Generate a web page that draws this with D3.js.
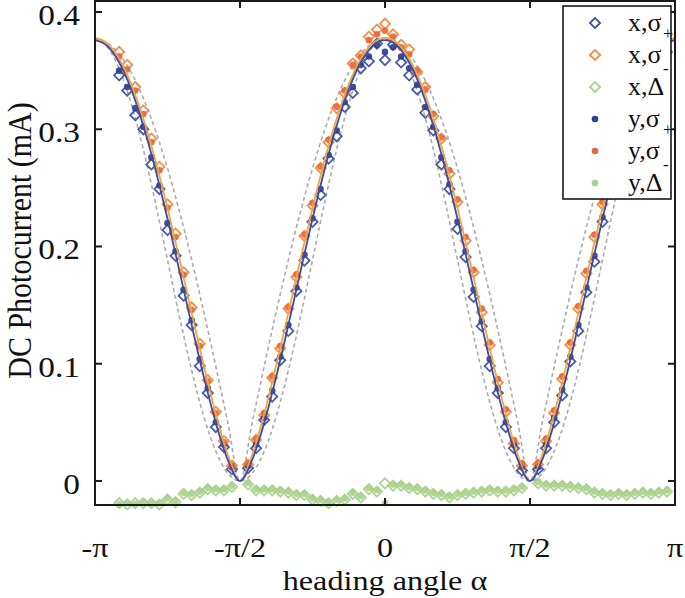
<!DOCTYPE html>
<html><head><meta charset="utf-8">
<script src="https://cdn.jsdelivr.net/npm/d3@7"></script>
<style>body{margin:0;background:#fff} svg{display:block}</style>
</head><body><svg id="c" width="685" height="598"></svg>
<script>
// ---- data (degrees) ----
const angles = [-165,-160,-155,-150,-145,-140,-135,-130,-125,-120,-115,-110,-105,-100,-95,
 -85,-80,-75,-70,-65,-60,-55,-50,-45,-40,-35,-30,-25,-20,-15,-10,-5,
 0,
 5,10,15,20,25,30,35,40,45,50,55,60,65,70,75,80,85,
 95,100,105,110,115,120,125,130,135,140,145,150,155,160,165,170,175];

const xSigP = [0.346,0.333,0.312,0.300,0.270,0.249,0.214,0.192,0.158,0.133,0.098,0.075,0.046,0.029,0.010,
 0.011,0.028,0.052,0.072,0.103,0.128,0.162,0.188,0.221,0.244,0.275,0.294,0.319,0.331,0.352,0.358,0.373,
 0.359,
 0.372,0.357,0.346,0.334,0.314,0.299,0.270,0.249,0.215,0.191,0.157,0.132,0.098,0.075,0.046,0.028,0.009,
 0.010,0.028,0.050,0.073,0.102,0.128,0.161,0.187,0.221,0.245,0.274,0.297,0.318,0.334,0.350,0.360,0.366];

const xSigM = [0.366,0.355,0.336,0.316,0.292,0.268,0.236,0.211,0.178,0.148,0.117,0.086,0.059,0.034,0.013,
 0.014,0.035,0.056,0.088,0.113,0.147,0.174,0.209,0.235,0.267,0.289,0.318,0.331,0.356,0.363,0.379,0.385,
 0.390,
 0.381,0.372,0.368,0.349,0.336,0.311,0.292,0.262,0.238,0.205,0.178,0.144,0.116,0.084,0.059,0.032,0.013,
 0.014,0.034,0.058,0.087,0.116,0.147,0.177,0.208,0.236,0.266,0.290,0.315,0.335,0.353,0.366,0.377,0.381];

const xDelta = [-0.019,-0.020,-0.019,-0.019,-0.019,-0.020,-0.016,-0.018,-0.011,-0.012,-0.010,-0.007,-0.008,-0.008,-0.005,
 -0.003,-0.008,-0.008,-0.008,-0.009,-0.010,-0.012,-0.012,-0.016,-0.017,-0.019,-0.017,-0.016,-0.011,-0.014,-0.007,-0.009,
 -0.002,
 -0.004,-0.004,-0.006,-0.007,-0.009,-0.011,-0.012,-0.014,-0.012,-0.011,-0.010,-0.009,-0.008,-0.009,-0.009,-0.008,-0.006,
 -0.002,-0.004,-0.004,-0.004,-0.005,-0.006,-0.007,-0.010,-0.011,-0.012,-0.011,-0.012,-0.011,-0.010,-0.011,-0.010,-0.009];

const ySigP = [0.350,0.336,0.318,0.302,0.276,0.252,0.220,0.196,0.163,0.137,0.104,0.079,0.050,0.031,0.012,
 0.013,0.031,0.054,0.077,0.106,0.133,0.165,0.193,0.224,0.249,0.278,0.299,0.323,0.336,0.355,0.362,0.372,
 0.366,
 0.370,0.362,0.352,0.338,0.319,0.302,0.276,0.253,0.221,0.196,0.163,0.136,0.104,0.079,0.050,0.031,0.012,
 0.012,0.031,0.054,0.078,0.106,0.133,0.165,0.192,0.225,0.250,0.278,0.301,0.322,0.338,0.353,0.363,0.369];

const ySigM = [0.362,0.351,0.333,0.313,0.289,0.265,0.233,0.208,0.176,0.146,0.115,0.085,0.058,0.033,0.013,
 0.015,0.036,0.058,0.089,0.115,0.148,0.176,0.210,0.237,0.268,0.291,0.319,0.333,0.355,0.362,0.376,0.381,
 0.384,
 0.379,0.370,0.364,0.350,0.334,0.313,0.293,0.265,0.240,0.208,0.180,0.147,0.118,0.087,0.061,0.035,0.015,
 0.015,0.036,0.060,0.089,0.118,0.149,0.179,0.210,0.238,0.268,0.292,0.317,0.337,0.355,0.368,0.378,0.382];

const yDelta = [-0.020,-0.019,-0.020,-0.018,-0.019,-0.019,-0.015,-0.017,-0.010,-0.011,-0.009,-0.006,-0.007,-0.007,-0.004,
 -0.002,-0.007,-0.007,-0.007,-0.008,-0.009,-0.011,-0.011,-0.015,-0.016,-0.018,-0.016,-0.015,-0.010,-0.013,-0.006,-0.008,
 -0.019,
 -0.003,-0.003,-0.005,-0.006,-0.008,-0.010,-0.011,-0.013,-0.011,-0.010,-0.009,-0.008,-0.007,-0.008,-0.008,-0.007,-0.005,
 -0.001,-0.003,-0.003,-0.003,-0.004,-0.005,-0.006,-0.009,-0.010,-0.011,-0.010,-0.011,-0.010,-0.009,-0.010,-0.009,-0.008];

// fitted / bound curves
const fitAngles = [-180,-172.5,-165,-157.5,-150,-142.5,-135,-127.5,-120,-112.5,-105,-97.5,-90,
 -82.5,-75,-67.5,-60,-52.5,-45,-37.5,-30,-22.5,-15,-7.5,0,
 7.5,15,22.5,30,37.5,45,52.5,60,67.5,75,82.5,90,
 97.5,105,112.5,120,127.5,135,142.5,150,157.5,165,172.5,180];

const fitSigP = [0.376,0.3712,0.3569,0.3339,0.3030,0.2657,0.2236,0.1786,0.1329,0.0890,0.0495,0.0177,0.0,
 0.0177,0.0495,0.0890,0.1329,0.1786,0.2236,0.2657,0.3030,0.3339,0.3569,0.3712,0.376,
 0.3712,0.3569,0.3339,0.3030,0.2657,0.2236,0.1786,0.1329,0.0890,0.0495,0.0177,0.0,
 0.0177,0.0495,0.0890,0.1329,0.1786,0.2236,0.2657,0.3030,0.3339,0.3569,0.3712,0.376];

const fitSigM = [0.378,0.3735,0.3601,0.3383,0.3090,0.2734,0.2327,0.1887,0.1432,0.0985,0.0570,0.0219,0.0,
 0.0219,0.0570,0.0985,0.1432,0.1887,0.2327,0.2734,0.3090,0.3383,0.3601,0.3735,0.378,
 0.3735,0.3601,0.3383,0.3090,0.2734,0.2327,0.1887,0.1432,0.0985,0.0570,0.0219,0.0,
 0.0219,0.0570,0.0985,0.1432,0.1887,0.2327,0.2734,0.3090,0.3383,0.3601,0.3735,0.378];

const boundWide = [0.377,0.3738,0.3642,0.3483,0.3265,0.2991,0.2666,0.2295,0.1885,0.1443,0.0976,0.0492,0.0,
 0.0492,0.0976,0.1443,0.1885,0.2295,0.2666,0.2991,0.3265,0.3483,0.3642,0.3738,0.377,
 0.3738,0.3642,0.3483,0.3265,0.2991,0.2666,0.2295,0.1885,0.1443,0.0976,0.0492,0.0,
 0.0492,0.0976,0.1443,0.1885,0.2295,0.2666,0.2991,0.3265,0.3483,0.3642,0.3738,0.377];

const boundNarrow = [0.377,0.3706,0.3517,0.3218,0.2828,0.2373,0.1885,0.1397,0.0943,0.0552,0.0253,0.0064,0.0,
 0.0064,0.0253,0.0552,0.0943,0.1397,0.1885,0.2373,0.2828,0.3218,0.3517,0.3706,0.377,
 0.3706,0.3517,0.3218,0.2828,0.2373,0.1885,0.1397,0.0943,0.0552,0.0253,0.0064,0.0,
 0.0064,0.0253,0.0552,0.0943,0.1397,0.1885,0.2373,0.2828,0.3218,0.3517,0.3706,0.377];

const xTicks = [-180,-90,0,90,180];
const xTickLabels = ["-π","-π/2","0","π/2","π"];
const yTicks = [0,0.1,0.2,0.3,0.4];
const yTickLabels = ["0","0.1","0.2","0.3","0.4"];

const legendLabels = [["x,σ","+"],["x,σ","-"],["x,Δ",""],["y,σ","+"],["y,σ","-"],["y,Δ",""]];

// ---- drawing ----
const svg = d3.select("#c");
const x = d3.scaleLinear().domain([-180,180]).range([95,675]);
const y = d3.scaleLinear().domain([-0.0205,0.4094]).range([505,1]);
const FONT = "'Liberation Serif','Times New Roman',serif";
const SX = 1.15;

const cBlueD = "#3b4ea3", cOrangeD = "#f0883a", cGreen = "#a8d08a",
      cNavy = "#2f3f8e", cRed = "#e8673b", cBlueL = "#3a4cab", cOrangeL = "#f4a53a";

const line = d3.line().x((d,i)=>x(fitAngles[i])).y(d=>y(d)).curve(d3.curveMonotoneX);

svg.append("path").datum(boundWide).attr("d",line).attr("fill","none")
  .attr("stroke","#ababab").attr("stroke-width",1.6).attr("stroke-dasharray","4,3");
svg.append("path").datum(boundNarrow).attr("d",line).attr("fill","none")
  .attr("stroke","#ababab").attr("stroke-width",1.6).attr("stroke-dasharray","4,3");

const diamond = d3.symbol().type(d3.symbolSquare).size(52)();
function diamonds(vals, color){
  svg.append("g").selectAll("path").data(vals).join("path")
    .attr("d",diamond)
    .attr("transform",(d,i)=>`translate(${x(angles[i])},${y(d)}) rotate(45)`)
    .attr("fill","none").attr("stroke",color).attr("stroke-width",1.8).attr("opacity",0.92);
}
function dots(vals, color){
  svg.append("g").selectAll("circle").data(vals).join("circle")
    .attr("cx",(d,i)=>x(angles[i])).attr("cy",d=>y(d)).attr("r",3.3)
    .attr("fill",color).attr("opacity",0.92);
}

diamonds(xSigP,cBlueD);
diamonds(xSigM,cOrangeD);
diamonds(xDelta,cGreen);
dots(ySigP,cNavy);
dots(ySigM,cRed);
dots(yDelta,cGreen);

svg.append("path").datum(fitSigM).attr("d",line).attr("fill","none")
  .attr("stroke",cOrangeL).attr("stroke-width",1.8);
svg.append("path").datum(fitSigP).attr("d",line).attr("fill","none")
  .attr("stroke",cBlueL).attr("stroke-width",1.8);

// frame + ticks
const [x0,x1] = x.range(), [yb,yt] = y.range();
const frame = svg.append("g").attr("stroke","#1a1a1a").attr("stroke-width",2).attr("fill","none");
frame.append("rect").attr("x",x0).attr("y",yt).attr("width",x1-x0).attr("height",yb-yt);
const TL = 7;
xTicks.forEach(t=>{
  frame.append("line").attr("x1",x(t)).attr("x2",x(t)).attr("y1",yb).attr("y2",yb-TL);
  frame.append("line").attr("x1",x(t)).attr("x2",x(t)).attr("y1",yt).attr("y2",yt+TL);
});
yTicks.forEach(t=>{
  frame.append("line").attr("x1",x0).attr("x2",x0+TL).attr("y1",y(t)).attr("y2",y(t));
  frame.append("line").attr("x1",x1).attr("x2",x1-TL).attr("y1",y(t)).attr("y2",y(t));
});

// tick labels
xTicks.forEach((t,i)=>{
  svg.append("text").attr("transform",`translate(${x(t)},557) scale(${SX},1)`)
    .attr("text-anchor","middle").attr("font-family",FONT).attr("font-size",28)
    .attr("fill","#111").text(xTickLabels[i]);
});
yTicks.forEach((t,i)=>{
  svg.append("text").attr("transform",`translate(80,${y(t)+13}) scale(${SX},1)`)
    .attr("text-anchor","end").attr("font-family",FONT).attr("font-size",29)
    .attr("fill","#111").text(yTickLabels[i]);
});
// axis titles
svg.append("text").attr("transform",`translate(${x(0)},590) scale(${SX},1)`)
  .attr("text-anchor","middle").attr("font-family",FONT).attr("font-size",28)
  .attr("fill","#111").text("heading angle α");
svg.append("text").attr("transform",`translate(31,${(y(0)+y(0.4))/2 - 6}) scale(1.1,1) rotate(-90)`)
  .attr("text-anchor","middle").attr("font-family",FONT).attr("font-size",30)
  .attr("fill","#111").text("DC Photocurrent (mA)");

// legend
const lg = svg.append("g");
lg.append("rect").attr("x",563).attr("y",6).attr("width",108).attr("height",193)
  .attr("fill","#fff").attr("stroke","#1a1a1a").attr("stroke-width",1.6);
const legColors = [cBlueD,cOrangeD,cGreen,cNavy,cRed,cGreen];
legendLabels.forEach((lab,i)=>{
  const ly = 23 + i*32;
  if(i<3){
    lg.append("path").attr("d",diamond).attr("transform",`translate(595,${ly}) rotate(45)`)
      .attr("fill","none").attr("stroke",legColors[i]).attr("stroke-width",1.8);
  } else {
    lg.append("circle").attr("cx",595).attr("cy",ly).attr("r",3.3).attr("fill",legColors[i]);
  }
  lg.append("text").attr("x",628).attr("y",ly+8).attr("font-family",FONT)
    .attr("font-size",26).attr("fill","#111").text(lab[0]);
  if(lab[1]){
    lg.append("text").attr("x",663).attr("y",ly+ (lab[1]==="+"?16:19)).attr("font-family",FONT)
      .attr("font-size",17).attr("fill","#111").text(lab[1]);
  }
});
</script></body></html>
